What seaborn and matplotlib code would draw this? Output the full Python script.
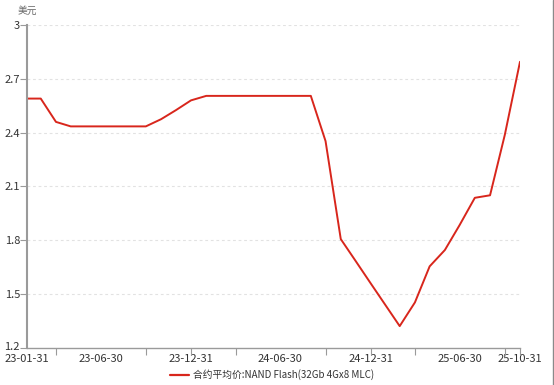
import matplotlib
matplotlib.use("Agg")
import matplotlib.pyplot as plt
from matplotlib.lines import Line2D
from matplotlib.transforms import ScaledTranslation
import seaborn as sns
import pandas as pd

# ---- data ----
dates = pd.date_range("2023-01-31", "2025-10-31", freq="ME")
prices = [2.59, 2.59, 2.46, 2.435, 2.435, 2.435, 2.435, 2.435, 2.435, 2.475,
          2.525, 2.58, 2.605, 2.605, 2.605, 2.605, 2.605, 2.605, 2.605, 2.605,
          2.353, 1.807, 1.686, 1.56, 1.435, 1.322, 1.454, 1.655, 1.746, 1.885,
          2.037, 2.051, 2.387, 2.795]
series_name = "合约平均价:NAND Flash(32Gb 4Gx8 MLC)"
unit_label = "美元"
y_ticks = [1.2, 1.5, 1.8, 2.1, 2.4, 2.7, 3.0]
y_tick_labels = ["1.2", "1.5", "1.8", "2.1", "2.4", "2.7", "3"]
x_label_dates = ["2023-01-31", "2023-06-30", "2023-12-31", "2024-06-30",
                 "2024-12-31", "2025-06-30", "2025-10-31"]
x_labels = ["23-01-31", "23-06-30", "23-12-31", "24-06-30",
            "24-12-31", "25-06-30", "25-10-31"]
x_tick_mark_dates = ["2023-03-31", "2023-09-30", "2023-12-31", "2024-03-31",
                     "2024-09-30", "2024-12-31", "2025-03-31", "2025-09-30",
                     "2025-10-31"]

df = pd.DataFrame({"date": dates, "price": prices, "series": series_name})

sns.set_theme(style="white")
plt.rcParams["font.family"] = ["Noto Sans CJK SC", "DejaVu Sans"]

fig = plt.figure(figsize=(5.54, 3.85), dpi=100)
ax = fig.add_axes([27 / 554, 1 - 348 / 385, (520 - 27) / 554, (348 - 25) / 385])

line_color = "#d8261c"
sns.lineplot(data=df, x="date", y="price", ax=ax, color=line_color,
             linewidth=1.4, legend=False)

ax.set_xlim(pd.Timestamp("2023-01-31"), pd.Timestamp("2025-10-31"))
ax.set_ylim(1.2, 3.0)

# grid
for yv in y_ticks[1:]:
    ax.axhline(yv, color="#e2e2e2", lw=0.8, ls=(0, (2.5, 2.5)), zorder=0)

# spines
for s in ["top", "right"]:
    ax.spines[s].set_visible(False)
for s in ["left", "bottom"]:
    ax.spines[s].set_color("#9a9a9a")
ax.spines["left"].set_linewidth(1.5)
ax.spines["bottom"].set_linewidth(1.0)

# y ticks
ax.set_yticks(y_ticks)
ax.set_yticklabels(y_tick_labels)
ax.tick_params(axis="y", length=5, width=0.8, color="#9a9a9a", pad=0,
               labelsize=8, labelcolor="#333333", left=True)
for lbl in ax.get_yticklabels():
    if lbl.get_text() == "1.2":
        lbl.set_transform(lbl.get_transform() +
                          ScaledTranslation(0, 2.5 / 100, fig.dpi_scale_trans))

# x ticks
ax.set_xticks([pd.Timestamp(d) for d in x_label_dates])
ax.set_xticklabels(x_labels)
ax.set_xticks([pd.Timestamp(d) for d in x_tick_mark_dates], minor=True)
ax.xaxis.remove_overlapping_locs = False
ax.tick_params(axis="x", which="major", length=0, pad=4, labelsize=8,
               labelcolor="#333333")
ax.tick_params(axis="x", which="minor", length=5, width=0.8,
               color="#9a9a9a", bottom=True)
ax.set_xlabel("")
ax.set_ylabel("")

# unit label
fig.text(27 / 554, 1 - 11 / 385, unit_label, ha="center", va="center",
         fontsize=7, color="#666666")

# legend
handle = Line2D([0], [0], color=line_color, lw=1.6)
fig.legend([handle], [series_name], loc="center", ncol=1,
           bbox_to_anchor=(272 / 554, 1 - 375 / 385), frameon=False,
           fontsize=7, handlelength=2.0, handletextpad=0.4,
           labelcolor="#333333", borderaxespad=0, borderpad=0)

# right border of the image
fig.add_artist(Line2D([552.5 / 554, 552.5 / 554], [0, 1], color="#8a8a8a",
                      lw=1.0, transform=fig.transFigure))

fig.savefig("out.png", dpi=100)
